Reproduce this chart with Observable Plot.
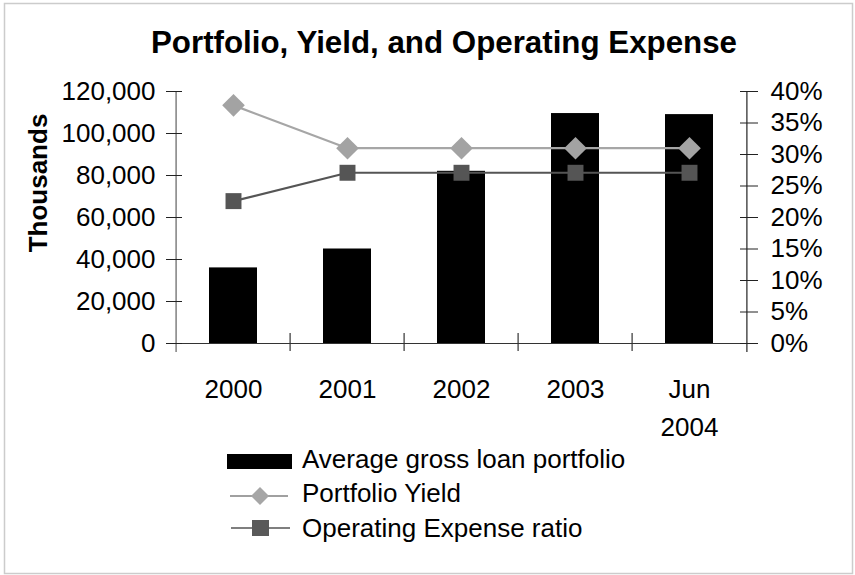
<!DOCTYPE html>
<html><head><meta charset="utf-8">
<script src="https://cdn.jsdelivr.net/npm/d3@7"></script>
<script src="https://cdn.jsdelivr.net/npm/@observablehq/plot@0.6"></script>
<style>
body{margin:0;background:#fff;}
#wrap{position:relative;width:855px;height:575px;}
</style>
</head><body><div id="wrap"></div>
<script>
// ---- data ----
const categories = ["2000", "2001", "2002", "2003", "Jun\n2004"];
const loanPortfolio = [36000, 45000, 82000, 109500, 109000];   // thousands
const portfolioYield = [37.8, 31.0, 31.0, 31.0, 31.0];         // %
const opexRatio = [22.6, 27.1, 27.1, 27.1, 27.1];              // %
const leftTicks = [0, 20000, 40000, 60000, 80000, 100000, 120000];
const rightTicks = [0, 5, 10, 15, 20, 25, 30, 35, 40];         // %
const titleText = "Portfolio, Yield, and Operating Expense";
const yLabelText = "Thousands";
const legendLabels = ["Average gross loan portfolio", "Portfolio Yield", "Operating Expense ratio"];

// ---- layout ----
const W = 855, H = 575;
const mL = 174, mR = 107, mT = 91, mB = 232;
const leftMax = 120000, rightMax = 40;
const k = leftMax / rightMax; // % -> left-axis units
const band = (W - mL - mR) / categories.length;
const font = "'Liberation Sans', Arial, Helvetica, sans-serif";

const rows = categories.map((c, i) => ({category: c, loan: loanPortfolio[i], yld: portfolioYield[i], opex: opexRatio[i]}));

const plot = Plot.plot({
  width: W, height: H,
  marginLeft: mL, marginRight: mR, marginTop: mT, marginBottom: mB,
  style: {fontFamily: font, fontSize: "26px", background: "transparent", color: "#000", overflow: "visible"},
  x: {type: "band", domain: categories, padding: 0},
  y: {domain: [0, leftMax]},
  marks: [
    Plot.barY(rows, {x: "category", y: "loan", fill: "#000", insetLeft: 33, insetRight: 33}),
    // axis lines
    Plot.ruleX([categories[0]], {x: d => d, dx: -band / 2, y1: leftMax, y2: 0, insetBottom: -9, stroke: "#808080", strokeWidth: 1.5}),
    Plot.ruleX([categories[categories.length - 1]], {x: d => d, dx: band / 2, y1: leftMax, y2: 0, insetBottom: -9, stroke: "#222", strokeWidth: 1.2}),
    Plot.ruleY([0], {stroke: "#333", strokeWidth: 1.2}),
    Plot.ruleX(categories.slice(1), {x: d => d, dx: -band / 2, y1: 0, y2: 0, insetTop: -10, insetBottom: -8, stroke: "#333", strokeWidth: 1.2}),
    // lines
    Plot.line(rows, {x: "category", y: d => d.yld * k, stroke: "#a6a6a6", strokeWidth: 2.2}),
    Plot.line(rows, {x: "category", y: d => d.opex * k, stroke: "#555", strokeWidth: 2.2}),
    Plot.dot(rows, {x: "category", y: d => d.yld * k, symbol: "diamond2", r: 10.2, fill: "#a3a3a3", stroke: "none"}),
    Plot.dot(rows, {x: "category", y: d => d.opex * k, symbol: "square", r: 9, fill: "#555", stroke: "none"}),
    // axes
    Plot.axisY(leftTicks, {anchor: "left", tickSize: 16, dx: 8, tickPadding: 11, tickFormat: d3.format(","), label: null, stroke: "#222"}),
    Plot.axisY(rightTicks.map(p => p * k), {anchor: "right", tickSize: 18, dx: -9, tickPadding: 13, tickFormat: d => d / k + "%", label: null, stroke: "#222"}),
    Plot.axisX({tickSize: 0, tickPadding: 28, lineHeight: 1.45, label: null})
  ]
});

plot.style.position = "absolute";
plot.style.left = "0px";
plot.style.top = "0px";
document.getElementById("wrap").appendChild(plot);

// ---- title, axis title, legend, border ----
const svg = d3.select(plot);
svg.insert("rect", ":first-child")
  .attr("x", 4.5).attr("y", 3.5).attr("width", 848).attr("height", 570)
  .attr("fill", "#fff").attr("stroke", "#cccccc").attr("stroke-width", 1.5);

svg.append("text").text(titleText)
  .attr("x", 444).attr("y", 53).attr("text-anchor", "middle")
  .style("font-family", font).style("font-size", "31.3px").style("font-weight", "bold").attr("fill", "#000");

svg.append("text").text(yLabelText)
  .attr("transform", "translate(47,183) rotate(-90)").attr("text-anchor", "middle")
  .style("font-family", font).style("font-size", "26px").style("font-weight", "bold").attr("fill", "#000");

const lg = svg.append("g").style("font-family", font).style("font-size", "26px").attr("text-anchor", "start");
// row 1 : bar swatch
lg.append("rect").attr("x", 227).attr("y", 454).attr("width", 65).attr("height", 15).attr("fill", "#000");
lg.append("text").attr("x", 302).attr("y", 468).attr("text-anchor", "start").text(legendLabels[0]);
// row 2 : yield
lg.append("line").attr("x1", 230).attr("x2", 288).attr("y1", 496).attr("y2", 496).attr("stroke", "#808080").attr("stroke-width", 1.5);
lg.append("path").attr("d", "M260,487L269,496L260,505L251,496Z").attr("fill", "#a6a6a6");
lg.append("text").attr("x", 302).attr("y", 502).attr("text-anchor", "start").text(legendLabels[1]);
// row 3 : opex
lg.append("line").attr("x1", 231).attr("x2", 290).attr("y1", 528).attr("y2", 528).attr("stroke", "#000").attr("stroke-width", 1.2);
lg.append("rect").attr("x", 252).attr("y", 520).attr("width", 17).attr("height", 16).attr("fill", "#595959");
lg.append("text").attr("x", 302).attr("y", 537).attr("text-anchor", "start").text(legendLabels[2]);
</script>
</body></html>
